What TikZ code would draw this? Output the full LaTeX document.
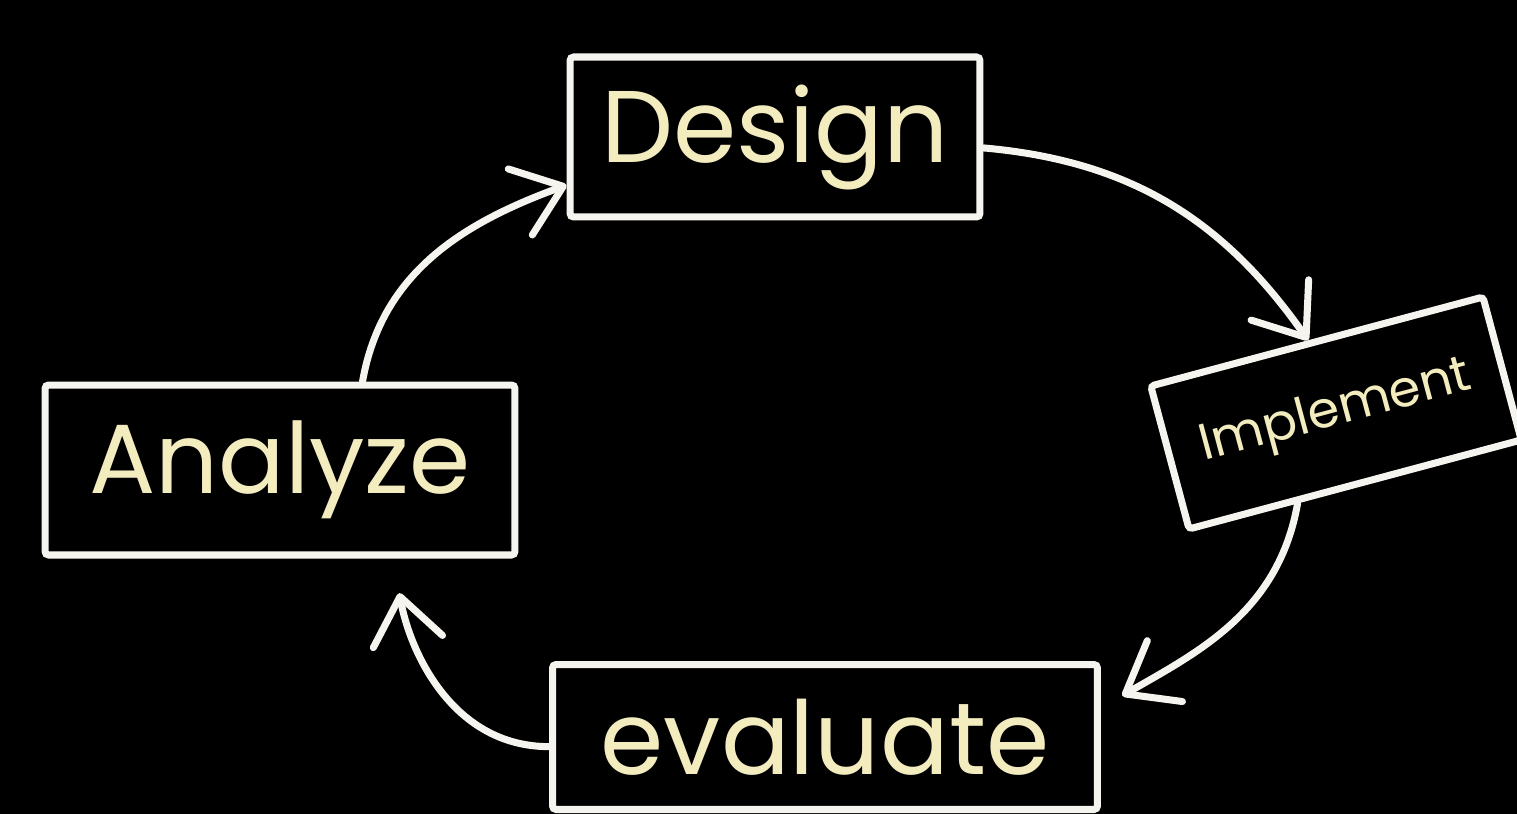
\documentclass[tikz,border=0pt]{standalone}
\usepackage{fontspec}
\setmainfont{Poppins}
\usetikzlibrary{arrows.meta}
\definecolor{chalk}{HTML}{F6F4EE}
\definecolor{chalkyellow}{HTML}{F3ECBE}
\begin{document}
\begin{tikzpicture}[x=0.02cm, y=-0.02cm,
  stage/.style={draw=chalk, line width=4pt, rectangle, rounded corners=2pt,
    text=chalkyellow, inner sep=0pt},
  flow/.style={draw=chalk, line width=4pt, line cap=round,
    -{Straight Barb[length=26pt, width=40pt, line width=4pt, round]}}]
  % chalkboard
  \fill[black] (0,0) rectangle (1517,814);
  \useasboundingbox (0,0) rectangle (1517,814);

  % the four stages of the cycle
  \node[stage, minimum width=8.2cm, minimum height=3.2cm,
    font=\fontsize{58}{60}\selectfont] (design) at (775,137) {Design};
  \node[stage, minimum width=6.88cm, minimum height=2.96cm, rotate=15,
    font=\fontsize{29}{32}\selectfont] (impl) at (1336,413) {Implement};
  \node[stage, minimum width=10.9cm, minimum height=2.9cm,
    font=\fontsize{58}{60}\selectfont] (eval) at (825,737) {evaluate};
  \node[stage, minimum width=9.4cm, minimum height=3.4cm,
    font=\fontsize{56}{60}\selectfont] (analyze) at (280,470) {Analyze};

  % arrows around the cycle
  \draw[flow] (analyze.47) to[out=80, in=200] (design.193);
  \draw[flow] (design.-3) to[out=-5, in=125] (impl.96);
  \draw[flow, shorten >=14pt] (impl.232) to[out=-100, in=30] (eval.6);
  \draw[flow, shorten >=20pt] (eval.182) to[out=180, in=-80] (analyze.-38);
\end{tikzpicture}
\end{document}
